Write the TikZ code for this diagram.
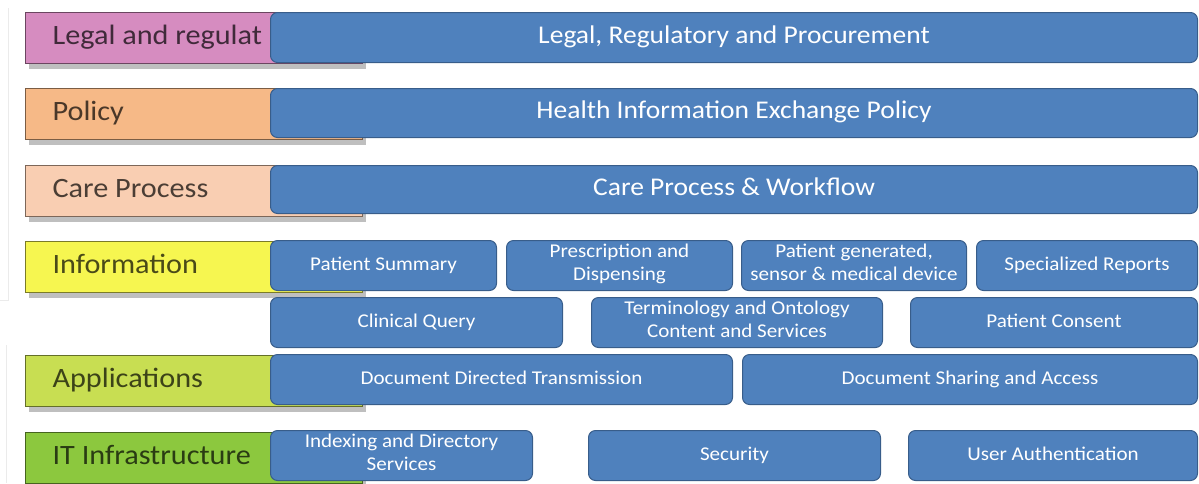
\documentclass[tikz,border=0pt]{standalone}
\usepackage{fontspec}
\setmainfont[FakeStretch=1.08]{Carlito}
\usetikzlibrary{shadows}
\definecolor{blueFill}{HTML}{4F81BD}
\definecolor{blueLine}{HTML}{385D8A}
\definecolor{legalC}{RGB}{214,140,192}
\definecolor{policyC}{RGB}{246,185,135}
\definecolor{careC}{RGB}{249,206,178}
\definecolor{infoC}{RGB}{246,246,80}
\definecolor{appC}{RGB}{200,222,82}
\definecolor{itC}{RGB}{140,200,62}
\newcommand{\lefttext}[1]{\makebox[283pt][l]{\strut #1}}
\begin{document}
\begin{tikzpicture}[x=1pt,y=-1pt,
  layer/.style={draw=#1!50!black, fill=#1, line width=1.2pt, anchor=north west,
    inner xsep=27pt, inner ysep=0pt, minimum height=51pt,
    font=\fontsize{28}{31}\selectfont, text=#1!30!black,
    drop shadow={shadow xshift=3pt, shadow yshift=-5pt, opacity=0.25, fill=black}},
  wide/.style={draw=blueLine, fill=blueFill, line width=1pt, rounded corners=7pt,
    anchor=north west, inner sep=0pt, text=white, align=center,
    font=\fontsize{25.5}{28}\selectfont,
    execute at begin node=\strut, execute at end node=\strut},
  cell/.style={wide, font=\fontsize{19.5}{23}\selectfont},
  % two-line cells: tall top strut, shallow bottom, so the lines sit lower
  twoline/.style={cell, execute at begin node={\rule{0pt}{19pt}},
    execute at end node={\rule[-1pt]{0pt}{1pt}}}]
\useasboundingbox (0,0) rectangle (1199,483);
% faint page edge
\draw[black!8, line width=1pt] (8,8) -- (8,300) -- (0,300);
\draw[black!8, line width=1pt] (6,345) -- (6,483);

% layer labels
\node[layer=legalC]  (legal) at (25,12)  {\lefttext{Legal and regulat}};
\node[layer=policyC] (policy) at (25,88) {\lefttext{Policy}};
\node[layer=careC]   (care) at (25,165)  {\lefttext{Care Process}};
\node[layer=infoC]   (info) at (25,241)  {\lefttext{Information}};
\node[layer=appC]    (apps) at (25,355)  {\lefttext{Applications}};
\node[layer=itC]     (infra) at (25,432) {\lefttext{IT Infrastructure}};

% full-width rows
\node[wide, minimum width=927pt, minimum height=50pt] (lrp) at (270,12) {Legal, Regulatory and Procurement};
\node[wide, minimum width=927pt, minimum height=49pt] (hie) at (270,88) {Health Information Exchange Policy};
\node[wide, minimum width=927pt, minimum height=48pt] (cpw) at (270,165) {Care Process \& Workflow};

% information, first row
\node[cell, minimum width=226pt, minimum height=50pt] (ps) at (270,240) {Patient Summary};
\node[twoline, minimum width=226pt, minimum height=50pt] (pd) at (506,240) {Prescription and\\Dispensing};
\node[twoline, minimum width=225pt, minimum height=50pt] (pg) at (741,240) {Patient generated,\\sensor \& medical device};
\node[cell, minimum width=221pt, minimum height=50pt] (sr) at (976,240) {Specialized Reports};

% information, second row
\node[cell, minimum width=292pt, minimum height=50pt] (cq) at (270,297) {Clinical Query};
\node[twoline, minimum width=291pt, minimum height=50pt] (to) at (591,297) {Terminology and Ontology\\Content and Services};
\node[cell, minimum width=287pt, minimum height=50pt] (pc) at (910,297) {Patient Consent};

% applications
\node[cell, minimum width=462pt, minimum height=50pt] (ddt) at (270,354) {Document Directed Transmission};
\node[cell, minimum width=455pt, minimum height=50pt] (dsa) at (742,354) {Document Sharing and Access};

% IT infrastructure
\node[twoline, minimum width=262pt, minimum height=50pt] (ids) at (270,430) {Indexing and Directory\\Services};
\node[cell, minimum width=292pt, minimum height=50pt] (sec) at (588,430) {Security};
\node[cell, minimum width=289pt, minimum height=50pt] (ua) at (908,430) {User Authentication};
\end{tikzpicture}
\end{document}
